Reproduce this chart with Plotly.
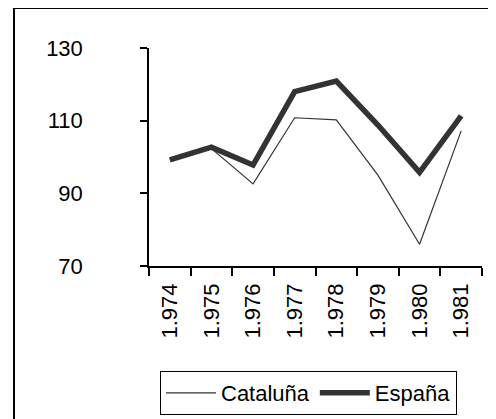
import plotly.graph_objects as go

years = ["1.974", "1.975", "1.976", "1.977", "1.978", "1.979", "1.980", "1.981"]
cataluna = [99.2, 102.3, 92.6, 110.8, 110.2, 95.0, 76.0, 107.2]
espana = [99.2, 102.7, 97.8, 118.0, 120.9, 108.8, 95.8, 111.3]
y_ticks = [70, 90, 110, 130]

OFF = 8  # page body margin
W, H = 496 - OFF, 419 - OFF
L, R, T, B = 149 - OFF, 14, 48 - OFF, 153
pw, ph = W - L - R, H - T - B

def px_x(x):
    return (x - OFF - L) / pw

def px_y(y):
    return (H - B - (y - OFF)) / ph

fig = go.Figure()
fig.add_trace(go.Scatter(x=years, y=cataluna, name="Cataluña", mode="lines",
                         line=dict(color="#333333", width=1.2)))
fig.add_trace(go.Scatter(x=years, y=espana, name="España", mode="lines",
                         line=dict(color="#333333", width=5.5)))

font = dict(family="Liberation Sans, Arial, sans-serif", size=22, color="black")

fig.update_layout(
    width=W, height=H,
    margin=dict(l=L, r=R, t=T, b=B, autoexpand=False),
    paper_bgcolor="white", plot_bgcolor="white",
    font=font,
    showlegend=True,
    legend=dict(orientation="h", x=px_x(160), y=px_y(371), xanchor="left", yanchor="top",
                bordercolor="black", borderwidth=1, font=font, itemwidth=50,
                bgcolor="white"),
    xaxis=dict(type="category", showgrid=False, showline=True, linecolor="black", linewidth=1.5,
               ticks="outside", ticklen=8, tickcolor="black", tickwidth=1.5,
               tickson="boundaries", tickangle=-90, tickfont=font, range=[-0.5, 7.5],
               ticklabelstandoff=7),
    yaxis=dict(range=[70, 130], tickvals=y_ticks, showgrid=False, zeroline=False,
               showline=True, linecolor="black", linewidth=1.5,
               ticks="outside", ticklen=7, tickcolor="black", tickwidth=1.5,
               tickfont=font, ticklabelstandoff=53),
    shapes=[dict(type="rect", xref="paper", yref="paper",
                 x0=px_x(14), y0=px_y(440), x1=px_x(510), y1=px_y(8),
                 line=dict(color="black", width=2), fillcolor="rgba(0,0,0,0)", layer="above")],
)

fig.write_html("out.html")
